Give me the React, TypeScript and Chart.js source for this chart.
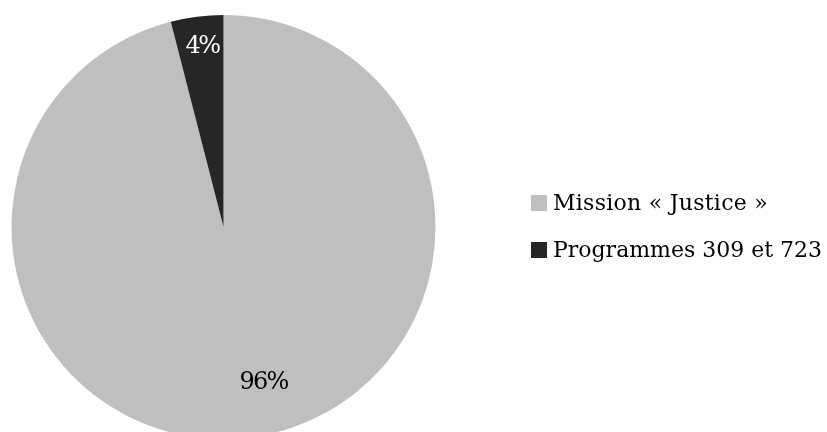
import React, { useEffect, useRef } from "react";
import { Chart, registerables } from "chart.js";

Chart.register(...registerables);

const categories = ["Mission « Justice »", "Programmes 309 et 723"];
const values = [96, 4];
const valueLabels = ["96%", "4%"];
const colors = ["#BFBFBF", "#262626"];
const labelColors = ["#000000", "#FFFFFF"];

const FONT = "'DejaVu Serif', 'Liberation Serif', serif";

const labelPlacement = [
  { delta: -7.2, frac: 0.76, width: 48 },
  { delta: 0.4, frac: 0.854, width: 33 },
];
const legendWidths = [215, 269];

function fitSpacing(ctx: any, text: string, target: number) {
  ctx.letterSpacing = "0px";
  const w = ctx.measureText(text).width;
  const s = (target - w) / text.length;
  ctx.letterSpacing = `${s}px`;
}

const sliceLabels = {
  id: "sliceLabels",
  afterDatasetsDraw(chart: any) {
    const ctx = chart.ctx;
    const meta = chart.getDatasetMeta(0);
    ctx.save();
    ctx.font = `24px ${FONT}`;
    ctx.textAlign = "left";
    ctx.textBaseline = "middle";
    meta.data.forEach((arc: any, i: number) => {
      const p = arc.getProps(["x", "y", "startAngle", "endAngle", "outerRadius"], true);
      const mid = (p.startAngle + p.endAngle) / 2 + (labelPlacement[i].delta * Math.PI) / 180;
      const r = p.outerRadius * labelPlacement[i].frac;
      fitSpacing(ctx, valueLabels[i], labelPlacement[i].width);
      ctx.fillStyle = labelColors[i];
      const cx = p.x + r * Math.cos(mid);
      const cy = p.y + r * Math.sin(mid);
      ctx.fillText(valueLabels[i], cx - labelPlacement[i].width / 2, cy);
    });
    ctx.restore();
  },
};

const customLegend = {
  id: "customLegend",
  afterDraw(chart: any) {
    const ctx = chart.ctx;
    ctx.save();
    ctx.font = `22px ${FONT}`;
    ctx.textAlign = "left";
    ctx.textBaseline = "middle";
    categories.forEach((c, i) => {
      const y = 203 + i * 47;
      ctx.fillStyle = colors[i];
      ctx.fillRect(531, y - 8, 16, 16);
      ctx.fillStyle = "#000000";
      fitSpacing(ctx, c, legendWidths[i]);
      ctx.fillText(c, 553, y + 1);
    });
    ctx.restore();
  },
};

export default function App() {
  const ref = useRef<HTMLCanvasElement>(null);
  useEffect(() => {
    if (!ref.current) return;
    const chart = new Chart(ref.current, {
      type: "pie",
      data: {
        labels: categories,
        datasets: [
          {
            data: values,
            backgroundColor: colors,
            borderWidth: 0,
          },
        ],
      },
      options: {
        responsive: false,
        animation: false,
        devicePixelRatio: 1,
        layout: { padding: { left: 11.5, top: 15, right: 391.5, bottom: 21 } },
        plugins: {
          legend: { display: false },
          tooltip: { enabled: false },
        },
      },
      plugins: [sliceLabels, customLegend],
    });
    return () => chart.destroy();
  }, []);
  return (
    <div
      style={{
        position: "fixed",
        left: 0,
        top: 0,
        width: 827,
        height: 432,
        overflow: "hidden",
        background: "#ffffff",
      }}
    >
      <canvas ref={ref} width={827} height={460} style={{ display: "block" }} />
    </div>
  );
}
